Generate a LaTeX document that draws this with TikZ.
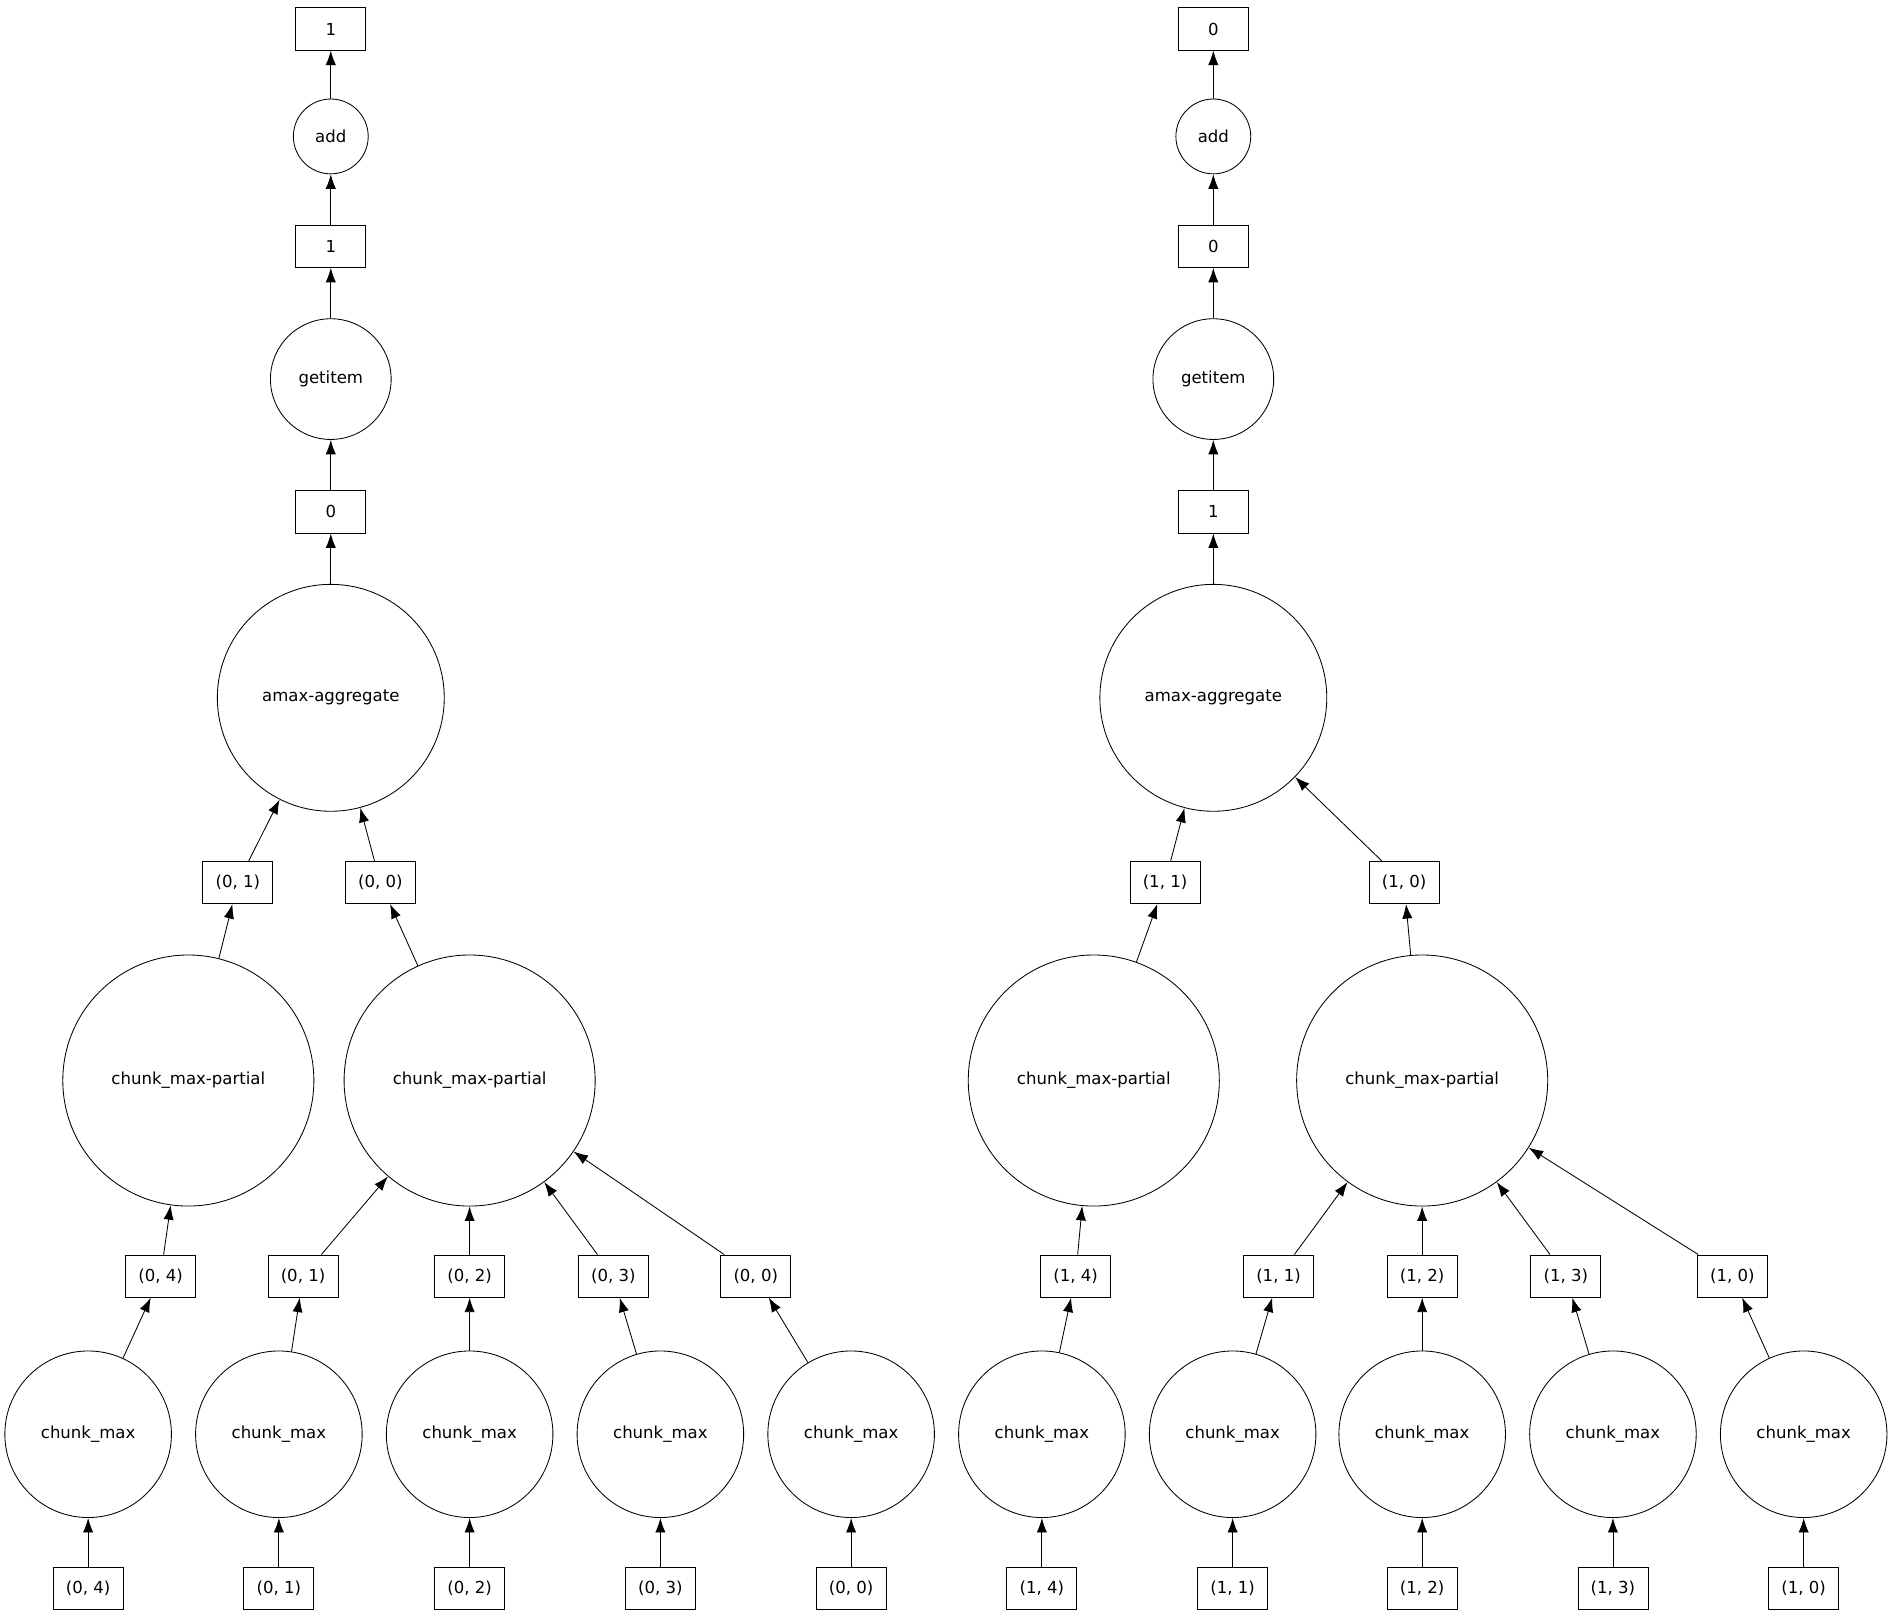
\documentclass[tikz,border=0pt]{standalone}
\usepackage{fontspec}
\setmainfont{DejaVu Sans}
\usetikzlibrary{arrows.meta}
\begin{document}
\begin{tikzpicture}[x=0.02cm, y=-0.02cm,
    every node/.style={font=\fontsize{7.8}{9}\selectfont},
    fbox/.style={draw, thin, minimum width=1.16cm, minimum height=0.7cm, inner sep=0pt},
    fcirc/.style={circle, draw, thin, minimum size=#1, inner sep=0pt},
    dep/.style={thin, -{Latex[length=0.24cm, width=0.17cm]}}]
  \useasboundingbox (0,0) rectangle (1568,1343);
  % ================= left tree =================
  \node[fbox] (La) at (274,24) {1};
  \node[fcirc=1.24cm] (Ladd) at (274,113) {add};
  \node[fbox] (Lb) at (274,204) {1};
  \node[fcirc=2cm] (Lget) at (274,314) {getitem};
  \node[fbox] (Lc) at (274,424) {0};
  \node[fcirc=3.76cm] (Lagg) at (274,578) {amax-aggregate};
  \node[fbox] (Lp1) at (197,731) {(0, 1)};
  \node[fbox] (Lp0) at (315,731) {(0, 0)};
  \node[fcirc=4.16cm] (LcpA) at (156,895) {chunk\_max-partial};
  \node[fcirc=4.16cm] (LcpB) at (389,895) {chunk\_max-partial};
  \draw[dep] (Ladd) -- (La);
  \draw[dep] (Lb) -- (Ladd);
  \draw[dep] (Lget) -- (Lb);
  \draw[dep] (Lc) -- (Lget);
  \draw[dep] (Lagg) -- (Lc);
  \draw[dep] (Lp1) -- (Lagg);
  \draw[dep] (Lp0) -- (Lagg);
  \draw[dep] (LcpA) -- (Lp1);
  \draw[dep] (LcpB) -- (Lp0);
  \foreach \n/\bx/\cx/\k/\tgt in {4/133/73/1/LcpA, 1/251/231/2/LcpB, 2/389/389/3/LcpB,
      3/508/547/4/LcpB, 0/626/705/5/LcpB} {
    \node[fbox] (Lm\k) at (\bx,1057) {(0, \n)};
    \node[fcirc=2.76cm] (Lcm\k) at (\cx,1188) {chunk\_max};
    \node[fbox] (Lin\k) at (\cx,1316) {(0, \n)};
    \draw[dep] (Lin\k) -- (Lcm\k);
    \draw[dep] (Lcm\k) -- (Lm\k);
    \draw[dep] (Lm\k) -- (\tgt);
  }
  % ================= right tree =================
  \node[fbox] (Ra) at (1005,24) {0};
  \node[fcirc=1.24cm] (Radd) at (1005,113) {add};
  \node[fbox] (Rb) at (1005,204) {0};
  \node[fcirc=2cm] (Rget) at (1005,314) {getitem};
  \node[fbox] (Rc) at (1005,424) {1};
  \node[fcirc=3.76cm] (Ragg) at (1005,578) {amax-aggregate};
  \node[fbox] (Rp1) at (965,731) {(1, 1)};
  \node[fbox] (Rp0) at (1163,731) {(1, 0)};
  \node[fcirc=4.16cm] (RcpA) at (906,895) {chunk\_max-partial};
  \node[fcirc=4.16cm] (RcpB) at (1178,895) {chunk\_max-partial};
  \draw[dep] (Radd) -- (Ra);
  \draw[dep] (Rb) -- (Radd);
  \draw[dep] (Rget) -- (Rb);
  \draw[dep] (Rc) -- (Rget);
  \draw[dep] (Ragg) -- (Rc);
  \draw[dep] (Rp1) -- (Ragg);
  \draw[dep] (Rp0) -- (Ragg);
  \draw[dep] (RcpA) -- (Rp1);
  \draw[dep] (RcpB) -- (Rp0);
  \foreach \n/\bx/\cx/\k/\tgt in {4/891/863/1/RcpA, 1/1059/1021/2/RcpB, 2/1178/1178/3/RcpB,
      3/1297/1336/4/RcpB, 0/1435/1494/5/RcpB} {
    \node[fbox] (Rm\k) at (\bx,1057) {(1, \n)};
    \node[fcirc=2.76cm] (Rcm\k) at (\cx,1188) {chunk\_max};
    \node[fbox] (Rin\k) at (\cx,1316) {(1, \n)};
    \draw[dep] (Rin\k) -- (Rcm\k);
    \draw[dep] (Rcm\k) -- (Rm\k);
    \draw[dep] (Rm\k) -- (\tgt);
  }
\end{tikzpicture}
\end{document}
